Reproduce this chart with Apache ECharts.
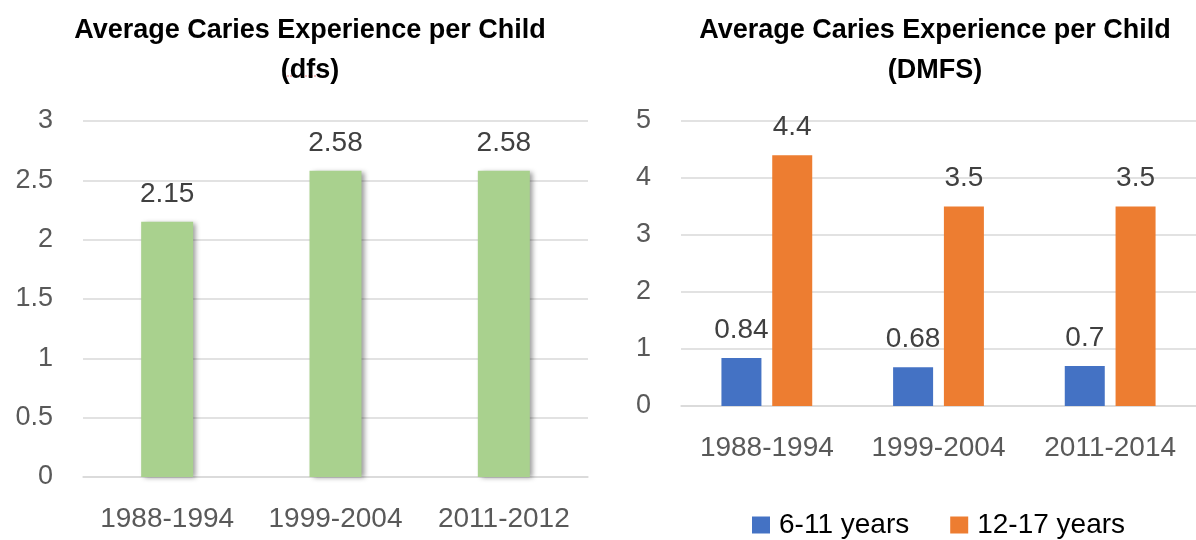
<!DOCTYPE html>
<html>
<head>
<meta charset="utf-8">
<script src="https://cdn.jsdelivr.net/npm/echarts@6/dist/echarts.min.js"></script>
<style>
html,body{margin:0;padding:0;background:#fff;}
#c1{width:1196px;height:540px;}
</style>
</head>
<body>
<div id="c1"></div>
<script>
// data
var dfsYears = ['1988-1994', '1999-2004', '2011-2012'];
var dfsValues = [2.15, 2.58, 2.58];
var dmfsYears = ['1988-1994', '1999-2004', '2011-2014'];
var age611 = [0.84, 0.68, 0.7];
var age1217 = [4.4, 3.5, 3.5];
var seriesNames = ['6-11 years', '12-17 years'];

var font = 'Liberation Sans, Arial, sans-serif';
var gridColor = '#d9d9d9';

function valueAxis(idx, max, step) {
	return {
		type: 'value', gridIndex: idx, min: 0, max: max, interval: step,
		axisLine: { show: false }, axisTick: { show: false },
		axisLabel: { fontFamily: font, fontSize: 27, color: '#595959', margin: 30 },
		splitLine: { lineStyle: { color: gridColor, width: 1.5 } }
	};
}
function catAxis(idx, cats) {
	return {
		type: 'category', gridIndex: idx, data: cats,
		axisTick: { show: false },
		axisLine: { lineStyle: { color: gridColor, width: 1.5 } },
		axisLabel: { fontFamily: font, fontSize: 28, color: '#595959', margin: 28, interval: 0, hideOverlap: false }
	};
}
var barLabel = { show: true, position: 'top', distance: 14, fontFamily: font, fontSize: 28, color: '#404040' };

var myChart = echarts.init(document.getElementById('c1'));
var option = {
	animation: false,
	title: [
		{ text: 'Average Caries Experience per Child\n(dfs)', left: 305, textAlign: 'center', top: 6,
		  textStyle: { fontFamily: font, fontSize: 27, fontWeight: 'bold', color: '#000', lineHeight: 40 } },
		{ text: 'Average Caries Experience per Child\n(DMFS)', left: 930, textAlign: 'center', top: 6,
		  textStyle: { fontFamily: font, fontSize: 27, fontWeight: 'bold', color: '#000', lineHeight: 40 } }
	],
	legend: {
		data: seriesNames, left: 747, top: 506, icon: 'rect',
		itemWidth: 18, itemHeight: 17, itemGap: 41, selectedMode: false,
		textStyle: { fontFamily: font, fontSize: 28, color: '#000', padding: [0, 0, 0, 4] }
	},
	grid: [
		{ left: 83, top: 121, width: 505, height: 356 },
		{ left: 681, top: 121, width: 529, height: 285 }
	],
	xAxis: [catAxis(0, dfsYears), catAxis(1, dmfsYears)],
	yAxis: [valueAxis(0, 3, 0.5), valueAxis(1, 5, 1)],
	series: [
		{ name: 'dfs', type: 'bar', xAxisIndex: 0, yAxisIndex: 0, data: dfsValues, barWidth: 52,
		  itemStyle: { color: '#a9d18e', shadowColor: 'rgba(0,0,0,0.4)', shadowBlur: 5, shadowOffsetX: 3, shadowOffsetY: 1 },
		  label: barLabel },
		{ name: seriesNames[0], type: 'bar', xAxisIndex: 1, yAxisIndex: 1, data: age611, barWidth: 40, barGap: '27%',
		  itemStyle: { color: '#4472c4' }, label: barLabel },
		{ name: seriesNames[1], type: 'bar', xAxisIndex: 1, yAxisIndex: 1, data: age1217, barWidth: 40, barGap: '27%',
		  itemStyle: { color: '#ed7d31' }, label: barLabel }
	],
	graphic: [
		// spell-check squiggle under "dfs"
		{ type: 'line', shape: { x1: 287, y1: 76, x2: 327, y2: 76 }, style: { stroke: '#f08080', lineWidth: 1, lineDash: [2, 1] } }
	]
};
myChart.setOption(option);
</script>
</body>
</html>
